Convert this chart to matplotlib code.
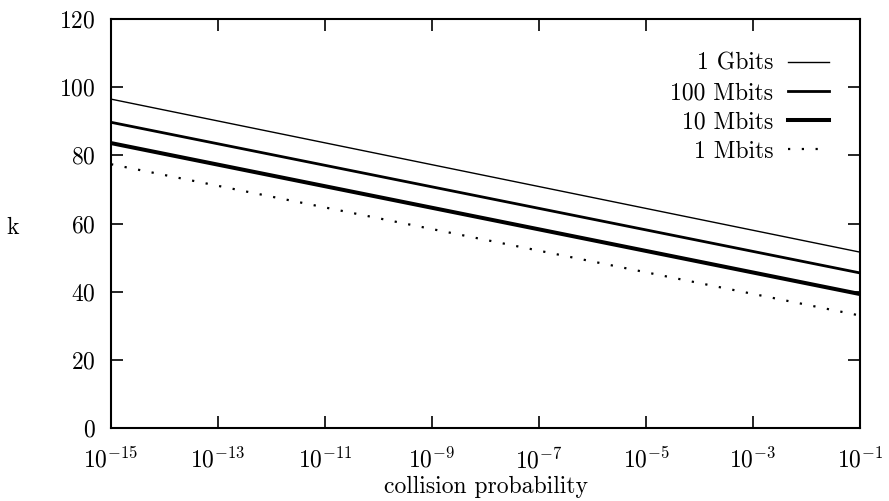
import matplotlib.pyplot as plt
import numpy as np

plt.rcParams['font.family'] = 'cmr10'
plt.rcParams['mathtext.fontset'] = 'cm'
plt.rcParams['axes.formatter.use_mathtext'] = True

# collision probability endpoints (log10) and k
logp = [-15, -1]
k_1g = [96.5, 51.6]
k_100m = [89.7, 45.5]
k_10m = [83.6, 39.3]
k_1m = [77.4, 33.0]

xticks = [-15, -13, -11, -9, -7, -5, -3, -1]
yticks = [0, 20, 40, 60, 80, 100, 120]

p = 10.0 ** np.array(logp)

fig = plt.figure(figsize=(8.89, 5.01), dpi=100)
ax = fig.add_axes([0.1249, 0.1457, 0.8425, 0.8163])

ax.plot(p, k_1g, color='black', lw=1.0, label='1 Gbits')
ax.plot(p, k_100m, color='black', lw=2.0, label='100 Mbits')
ax.plot(p, k_10m, color='black', lw=2.9, label='10 Mbits')
ax.plot(p, k_1m, color='black', lw=1.6, linestyle=(0, (1, 5.2)), label='1 Mbits')

ax.set_xscale('log')
ax.set_xlim(1e-15, 1e-1)
ax.set_ylim(0, 120)
ax.set_xticks([10.0 ** e for e in xticks])
ax.set_xticklabels([r'$10^{%d}$' % e for e in xticks])
ax.minorticks_off()
ax.set_yticks(yticks)

for s in ax.spines.values():
    s.set_linewidth(1.5)
ax.tick_params(axis='both', direction='in', length=8.5, width=1.2,
               top=True, right=True, labelsize=17)
ax.tick_params(axis='y', pad=11)
ax.tick_params(axis='x', pad=14)

ax.set_xlabel('collision probability', fontsize=17, labelpad=2)
ax.set_ylabel('k', fontsize=17, rotation=0, va='baseline', ha='center')
ax.yaxis.set_label_coords(-0.131, 0.474)

ax.legend(loc='upper right', frameon=False, markerfirst=False, fontsize=17,
          handlelength=1.75, handletextpad=0.6, labelspacing=0.3,
          borderaxespad=0.6, bbox_to_anchor=(0.99, 0.975))

fig.savefig('out.png', dpi=100)
